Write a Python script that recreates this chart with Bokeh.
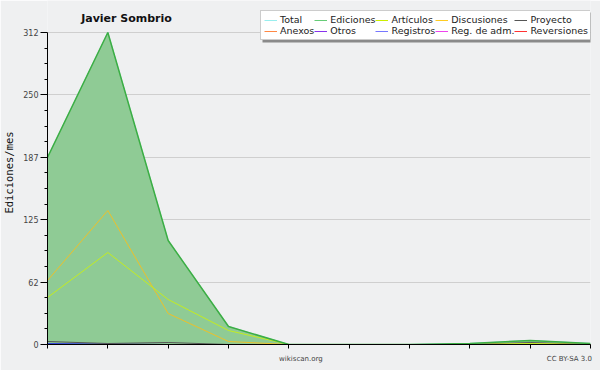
from bokeh.plotting import figure
from bokeh.models import FixedTicker, Legend, LegendItem, Label, Range1d, BoxAnnotation
from bokeh.embed import file_html
from bokeh.resources import INLINE

# ---- data ----
months = [0, 1, 2, 3, 4, 5, 6, 7, 8, 9]
total = [187, 312, 104, 18, 0, 0, 0, 1, 4, 1]
ediciones = [187, 312, 104, 18, 0, 0, 0, 1, 4, 1]
articulos = [47, 92, 45, 14, 0, 0, 0, 0, 1, 0]
discusiones = [64, 134, 31, 3, 0, 0, 0, 0, 0.5, 0]
proyecto = [3, 1, 2, 0, 0, 0, 0, 0, 2, 0]
anexos = [0, 0, 0, 0, 0, 0, 0, 0, 0, 0]
otros = [0, 0, 0, 0, 0, 0, 0, 0, 0, 0]
registros = [1, 0.5, 0, 0, 0, 0, 0, 0, 0, 0]
reg_adm = [0, 0, 0, 0, 0, 0, 0, 0, 0, 0]
reversiones = [0, 0, 0, 0, 0, 0, 0, 0, 0, 0]

y_ticks = [0, 62.4, 124.8, 187.2, 249.6, 312]
y_tick_labels = ["0", "62", "125", "187", "250", "312"]
y_minor = [15.6, 31.2, 46.8, 78.0, 93.6, 109.2, 140.4, 156.0, 171.6,
           202.8, 218.4, 234.0, 265.2, 280.8, 296.4]
y_max = 312

BG = "#eff0f1"
FONT = "DejaVu Sans"

# frame: x 46..590, y 0..344 (px); axis values end at 312, the space above
# holds the title and the legend
p = figure(width=600, height=370, output_backend="svg", toolbar_location=None,
           x_range=Range1d(0, 9), y_range=Range1d(0, y_max + 32),
           min_border_left=46, min_border_right=10, min_border_top=0,
           min_border_bottom=26, background_fill_color=BG,
           border_fill_color=BG)
p.outline_line_color = None

# y axis
yax = p.yaxis[0]
yax.bounds = (0, y_max)
yax.ticker = FixedTicker(ticks=y_ticks, minor_ticks=y_minor)
yax.major_label_overrides = {t: l for t, l in zip(y_ticks, y_tick_labels)}
yax.major_tick_out = 7
yax.major_tick_in = 0
yax.minor_tick_out = 3
yax.minor_tick_in = 0
yax.major_label_standoff = 2
yax.major_label_text_font = FONT
yax.major_label_text_font_size = "8px"
yax.major_label_text_color = "#444444"
yax.axis_line_color = "black"
yax.major_tick_line_color = "black"
yax.minor_tick_line_color = "black"
yax.axis_label = "Ediciones/mes"
yax.axis_label_text_font = "DejaVu Sans Mono"
yax.axis_label_text_font_size = "10.5px"
yax.axis_label_text_font_style = "normal"
yax.axis_label_text_color = "#111111"
yax.axis_label_standoff = 5

# x axis: months as (minor) tick marks, footer texts as labels
xax = p.xaxis[0]
xax.bounds = (0, 9)
foot_pos = [4.2, 8.65]
foot_txt = ["wikiscan.org", "CC BY-SA 3.0"]
xax.ticker = FixedTicker(ticks=foot_pos, minor_ticks=months)
xax.major_label_overrides = {t: l for t, l in zip(foot_pos, foot_txt)}
xax.major_tick_out = 0
xax.major_tick_in = 0
xax.major_tick_line_color = None
xax.minor_tick_out = 4
xax.minor_tick_in = 0
xax.minor_tick_line_color = "black"
xax.major_label_standoff = 6
xax.major_label_text_font = FONT
xax.major_label_text_font_size = "7px"
xax.major_label_text_color = "#444444"
xax.axis_line_color = "black"

p.xgrid.grid_line_color = None
p.ygrid.ticker = FixedTicker(ticks=y_ticks)
p.ygrid.grid_line_color = "#cfcfcf"

# glyphs
r_total = p.line(months, total, line_color="#88e0e0", line_width=1)
p.varea(x=months, y1=[0] * len(months), y2=ediciones, fill_color="#8fcb95",
        fill_alpha=1.0)
r_anexos = p.line(months, anexos, line_color="#ff8844", line_width=1)
r_otros = p.line(months, otros, line_color="#8833ee", line_width=1)
r_reg_adm = p.line(months, reg_adm, line_color="#ee44ee", line_width=1)
r_rev = p.line(months, reversiones, line_color="#ff3333", line_width=1)
r_registros = p.line(months, registros, line_color="#3344dd", line_width=1)
r_proy = p.line(months, proyecto, line_color="#555555", line_width=1)
r_disc = p.line(months, discusiones, line_color="#ecc02a", line_width=1)
r_art = p.line(months, articulos, line_color="#c4ec20", line_width=1)
r_edic = p.line(months, ediciones, line_color="#3cae44", line_width=1.5)

legend_names = ["Total", "Ediciones", "Artículos", "Discusiones", "Proyecto",
                "Anexos", "Otros", "Registros", "Reg. de adm.", "Reversiones"]
legend_colors = ["#99eeee", "#66cc77", "#ccee00", "#ffcc22", "#555555",
                 "#ff8844", "#8833ee", "#7777ff", "#ee44ee", "#ff3333"]

items = []
for name, col in zip(legend_names, legend_colors):
    lr = p.line([None], [None], line_color=col, line_width=1)
    items.append(LegendItem(label=name, renderers=[lr]))

# legend shadow
p.add_layout(BoxAnnotation(left=215, right=545, bottom=302, top=332,
                           left_units="screen", right_units="screen",
                           bottom_units="screen", top_units="screen",
                           fill_color="#8a8a8a", fill_alpha=1.0,
                           line_color=None))

legend = Legend(items=items, location=(213, 304), orientation="horizontal",
                ncols=5, padding=3, margin=0, spacing=0,
                glyph_width=13, glyph_height=10, label_height=10,
                label_standoff=3, label_text_font=FONT,
                label_text_font_size="9.5px", label_text_color="#222222",
                border_line_color="#999999", background_fill_color="white",
                background_fill_alpha=1.0)
p.add_layout(legend, "center")

p.add_layout(Label(x=79, y=326, x_units="screen", y_units="screen",
                   text="Javier Sombrio", text_font=FONT, text_font_style="bold",
                   text_font_size="11px", text_align="center",
                   text_baseline="middle", text_color="#111111"))

open("out.html", "w").write(file_html(p, INLINE))
